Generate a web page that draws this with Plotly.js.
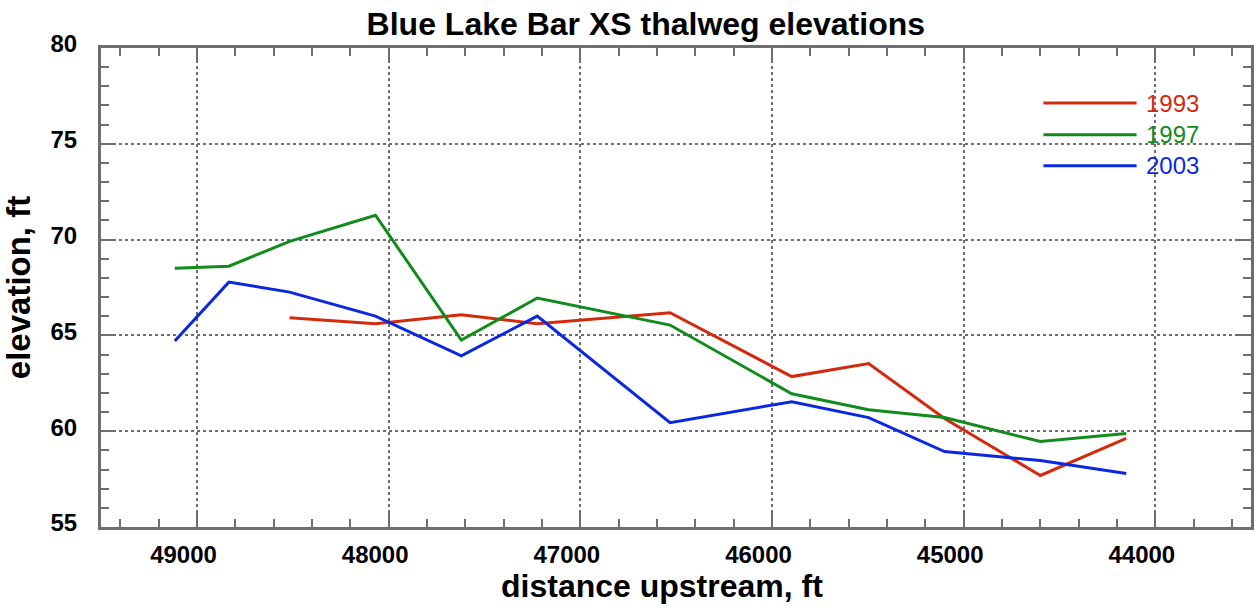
<!DOCTYPE html>
<html>
<head>
<meta charset="utf-8">
<script src="https://cdn.plot.ly/plotly-3.0.1.min.js"></script>
<style>
  html, body { margin: 0; padding: 0; background: #fff; }
  #chart { width: 1254px; height: 614px; }
</style>
</head>
<body>
<div id="chart"></div>
<script>
// Cross-section stations (ft upstream) and thalweg elevations (ft) per survey year
const dist1993 = [48516, 48068, 47620, 47224, 46531, 45896, 45495, 45099, 44599, 44151];
const elev1993 = [65.92, 65.61, 66.08, 65.61, 66.18, 62.85, 63.53, 60.66, 57.69, 59.62];

const dist1997 = [49115, 48833, 48516, 48068, 47620, 47224, 46531, 45896, 45495, 45099, 44599, 44151];
const elev1997 = [68.51, 68.61, 69.91, 71.27, 64.76, 66.95, 65.54, 61.95, 61.12, 60.71, 59.46, 59.88];

const dist2003 = [49115, 48833, 48516, 48068, 47620, 47224, 46531, 45896, 45495, 45099, 44599, 44151];
const elev2003 = [64.71, 67.78, 67.26, 66.01, 63.93, 66.01, 60.44, 61.54, 60.71, 58.94, 58.47, 57.79];

const seriesNames = ['1993', '1997', '2003'];
const seriesColors = ['#d42a0c', '#118c1c', '#0a28e0'];

const xTicks = [49000, 48000, 47000, 46000, 45000, 44000];
const yTicks = [55, 60, 65, 70, 75, 80];

const FONT = 'Liberation Sans, Arial, Helvetica, sans-serif';
const AXIS_GRAY = '#6e6e6e';
// trailing no-break spaces nudge the centred x labels a little to the left
const NBSP_PAD = '\u00a0\u00a0\u00a0\u00a0';

const traces = [
  { x: dist1993, y: elev1993 },
  { x: dist1997, y: elev1997 },
  { x: dist2003, y: elev2003 }
].map((s, i) => ({
  x: s.x, y: s.y, type: 'scatter', mode: 'lines', name: seriesNames[i],
  line: { color: seriesColors[i], width: 3 }, showlegend: false
}));

// Hand-drawn legend: long sample lines with coloured labels, top right
const legendShapes = [];
const legendNotes = [];
const legY = [0.885, 0.819, 0.754];
seriesNames.forEach((nm, i) => {
  legendShapes.push({
    type: 'line', xref: 'paper', yref: 'paper',
    x0: 0.8195, x1: 0.9005, y0: legY[i], y1: legY[i],
    line: { color: seriesColors[i], width: 3 }
  });
  legendNotes.push({
    xref: 'paper', yref: 'paper', x: 0.907, y: legY[i],
    xanchor: 'left', yanchor: 'middle', showarrow: false,
    text: nm, font: { family: FONT, size: 24, color: seriesColors[i] }
  });
});

// x-axis caption, set slightly left of the plot centre
legendNotes.push({
  xref: 'paper', yref: 'paper', x: 0.488, y: -0.124,
  xanchor: 'center', yanchor: 'middle', showarrow: false,
  text: 'distance upstream, ft',
  font: { family: FONT, size: 32, color: '#000', weight: 'bold' }
});

const axisCommon = {
  showline: true, linecolor: AXIS_GRAY, linewidth: 3, mirror: 'allticks',
  ticks: 'inside', ticklen: 15, tickwidth: 2, tickcolor: AXIS_GRAY,
  showgrid: true, gridcolor: AXIS_GRAY, gridwidth: 2, griddash: 'dot',
  zeroline: false,
  tickfont: { family: FONT, size: 24, color: '#000', weight: 'bold' }
};

const layout = {
  width: 1254, height: 614,
  margin: { l: 101, r: 3, t: 48, b: 87 },
  paper_bgcolor: '#fff', plot_bgcolor: '#fff',
  title: {
    text: 'Blue Lake Bar XS thalweg elevations',
    font: { family: FONT, size: 32, color: '#000', weight: 'bold' },
    x: 0.515, xanchor: 'center', y: 0.962, yanchor: 'middle'
  },
  xaxis: Object.assign({}, axisCommon, {
    range: [49500, 43500], tickvals: xTicks, ticktext: xTicks.map(v => String(v) + NBSP_PAD),
    ticklabelstandoff: 4,
    minor: { dtick: 200, tick0: 0, ticks: 'inside', ticklen: 8, tickwidth: 2, tickcolor: AXIS_GRAY, showgrid: false }
  }),
  yaxis: Object.assign({}, axisCommon, {
    range: [55, 80], tickvals: yTicks, ticktext: yTicks.map(String),
    ticklabelstandoff: 16, ticklabelshift: -4,
    minor: { dtick: 1, tick0: 0, ticks: 'inside', ticklen: 8, tickwidth: 2, tickcolor: AXIS_GRAY, showgrid: false },
    title: { text: 'elevation, ft', standoff: 12,
      font: { family: FONT, size: 33, color: '#000', weight: 'bold' } }
  }),
  shapes: legendShapes,
  annotations: legendNotes
};

Plotly.newPlot('chart', traces, layout, { displayModeBar: false, staticPlot: true });
</script>
</body>
</html>
